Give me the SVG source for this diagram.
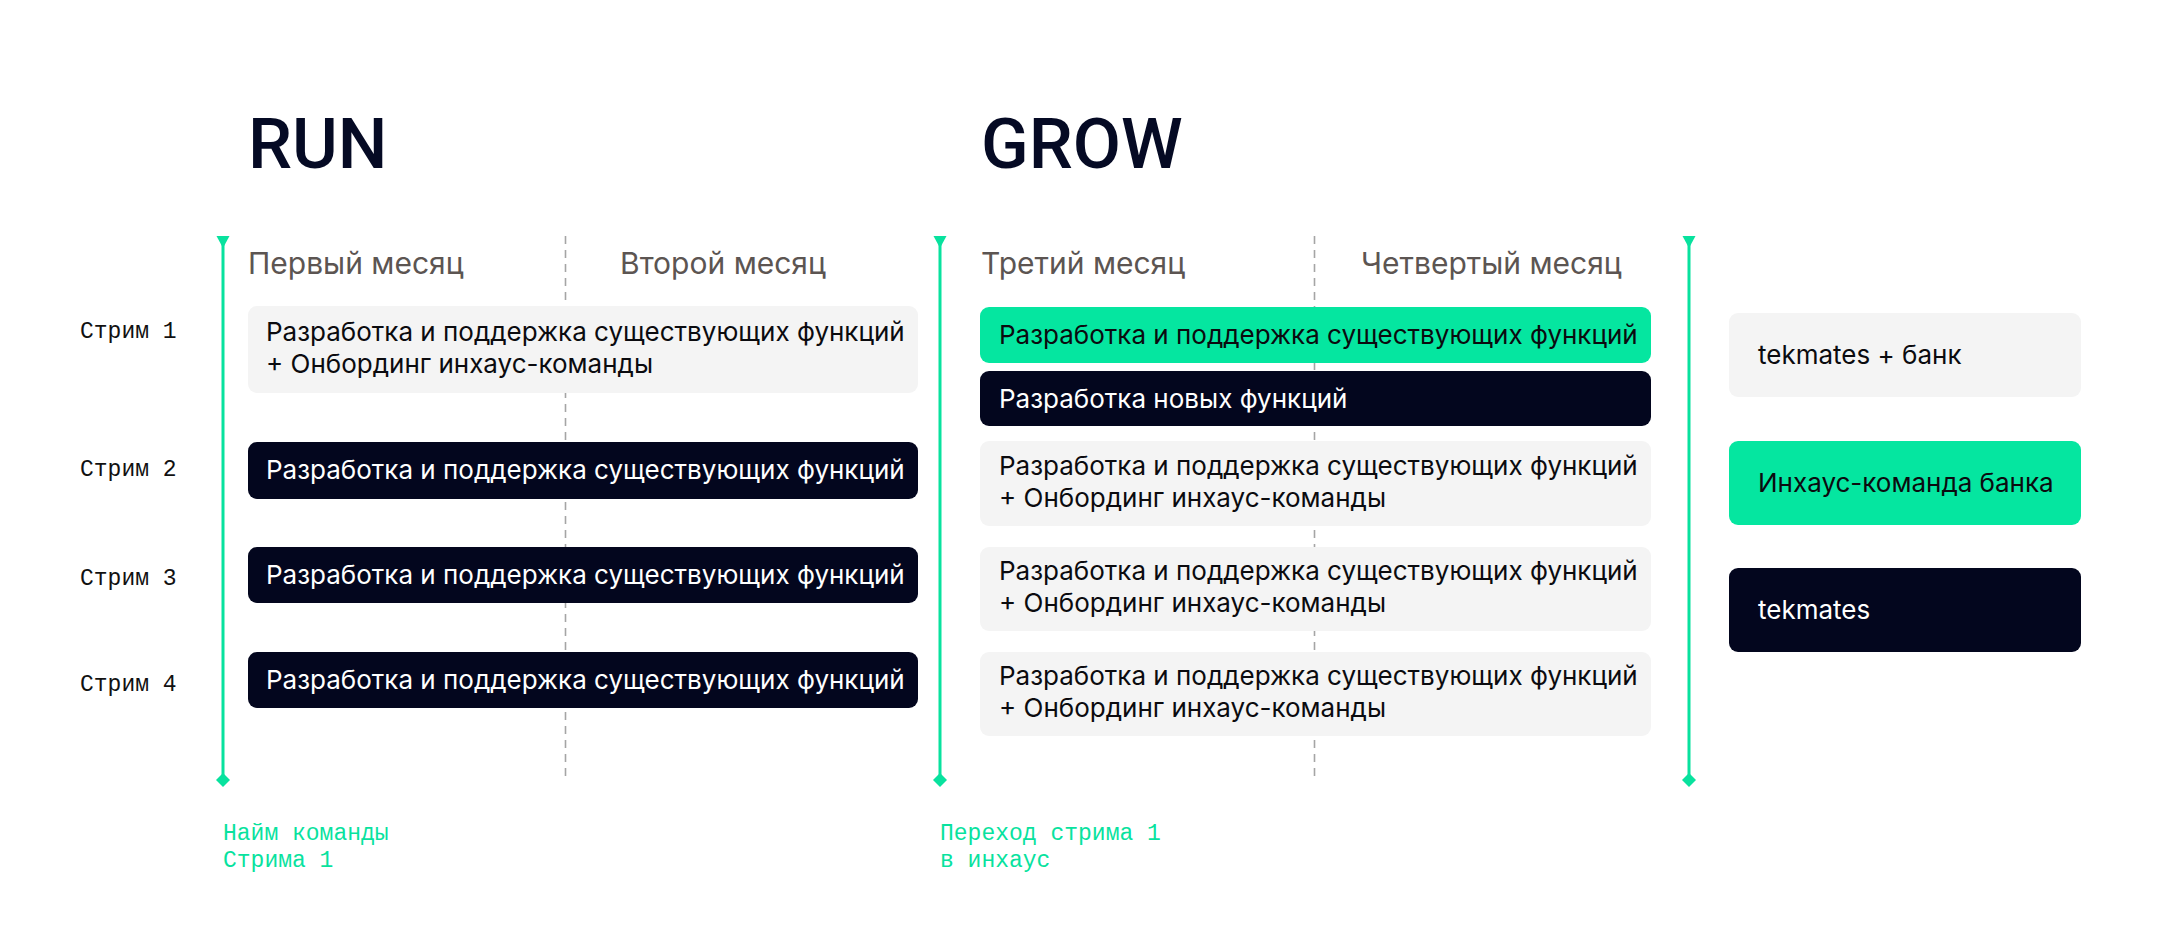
<svg xmlns="http://www.w3.org/2000/svg" width="2160" height="949" viewBox="0 0 2160 949">
<defs>
<style>
.title{font-family:Roboto,"Liberation Sans",sans-serif;font-weight:500;font-size:70px;fill:#050a24}
.month{font-family:Inter,Roboto,sans-serif;font-size:30px;fill:#5c5552}
.mono{font-family:"Liberation Mono","DejaVu Sans Mono",monospace;font-size:23px;fill:#111}
.gmono{font-family:"Liberation Mono","DejaVu Sans Mono",monospace;font-size:23px;fill:#08e29e}
.bt{font-family:Inter,Roboto,sans-serif;font-size:26px}
.light{fill:#f4f4f4}
.dark{fill:#03061e}
.green{fill:#05e6a0}
.tdark{fill:#0b0b0f}
.tlight{fill:#ffffff}
.tl{stroke:#08e29e;stroke-width:3;fill:none}
.dash{stroke:#a5a5a5;stroke-width:1.6;stroke-dasharray:8 6;fill:none}
</style>
</defs>
<rect width="2160" height="949" fill="#ffffff"/>

<g id="connectors">
  <line class="dash" x1="565.5" y1="236" x2="565.5" y2="782"/>
  <line class="dash" x1="1314.5" y1="236" x2="1314.5" y2="782"/>
  <g id="timeline-1">
    <line class="tl" x1="223" y1="238" x2="223" y2="780"/>
    <polygon points="216.5,236 229.5,236 223,248" fill="#08e29e"/>
    <polygon points="223,773 230,780 223,787 216,780" fill="#08e29e"/>
  </g>
  <g id="timeline-2">
    <line class="tl" x1="940" y1="238" x2="940" y2="780"/>
    <polygon points="933.5,236 946.5,236 940,248" fill="#08e29e"/>
    <polygon points="940,773 947,780 940,787 933,780" fill="#08e29e"/>
  </g>
  <g id="timeline-3">
    <line class="tl" x1="1689" y1="238" x2="1689" y2="780"/>
    <polygon points="1682.5,236 1695.5,236 1689,248" fill="#08e29e"/>
    <polygon points="1689,773 1696,780 1689,787 1682,780" fill="#08e29e"/>
  </g>
</g>

<g id="titles">
  <text class="title" x="248" y="168">RUN</text>
  <text class="title" x="981" y="168">GROW</text>
</g>

<g id="months">
  <text class="month" x="248" y="274">Первый месяц</text>
  <text class="month" x="620" y="274">Второй месяц</text>
  <text class="month" x="981" y="274">Третий месяц</text>
  <text class="month" x="1361" y="274">Четвертый месяц</text>
</g>

<g id="stream-labels">
  <text class="mono" x="80" y="338">Стрим 1</text>
  <text class="mono" x="80" y="476">Стрим 2</text>
  <text class="mono" x="80" y="585">Стрим 3</text>
  <text class="mono" x="80" y="691">Стрим 4</text>
</g>

<g id="run-s1">
  <rect class="light" x="248" y="306" width="670" height="87" rx="9"/>
  <text class="bt tdark" x="266" y="341">Разработка и поддержка существующих функций</text>
  <text class="bt tdark" x="266" y="373">+ Онбординг инхаус-команды</text>
</g>
<g id="run-s2">
  <rect class="dark" x="248" y="442" width="670" height="57" rx="9"/>
  <text class="bt tlight" x="266" y="479">Разработка и поддержка существующих функций</text>
</g>
<g id="run-s3">
  <rect class="dark" x="248" y="547" width="670" height="56" rx="9"/>
  <text class="bt tlight" x="266" y="584">Разработка и поддержка существующих функций</text>
</g>
<g id="run-s4">
  <rect class="dark" x="248" y="652" width="670" height="56" rx="9"/>
  <text class="bt tlight" x="266" y="689">Разработка и поддержка существующих функций</text>
</g>

<g id="grow-s1a">
  <rect class="green" x="980" y="307" width="671" height="56" rx="9"/>
  <text class="bt tdark" x="999" y="344">Разработка и поддержка существующих функций</text>
</g>
<g id="grow-s1b">
  <rect class="dark" x="980" y="371" width="671" height="55" rx="9"/>
  <text class="bt tlight" x="999" y="408">Разработка новых функций</text>
</g>
<g id="grow-s2">
  <rect class="light" x="980" y="441" width="671" height="85" rx="9"/>
  <text class="bt tdark" x="999" y="475">Разработка и поддержка существующих функций</text>
  <text class="bt tdark" x="999" y="507">+ Онбординг инхаус-команды</text>
</g>
<g id="grow-s3">
  <rect class="light" x="980" y="547" width="671" height="84" rx="9"/>
  <text class="bt tdark" x="999" y="580">Разработка и поддержка существующих функций</text>
  <text class="bt tdark" x="999" y="612">+ Онбординг инхаус-команды</text>
</g>
<g id="grow-s4">
  <rect class="light" x="980" y="652" width="671" height="84" rx="9"/>
  <text class="bt tdark" x="999" y="685">Разработка и поддержка существующих функций</text>
  <text class="bt tdark" x="999" y="717">+ Онбординг инхаус-команды</text>
</g>

<g id="legend-both">
  <rect class="light" x="1729" y="313" width="352" height="84" rx="9"/>
  <text class="bt tdark" x="1758" y="364">tekmates + банк</text>
</g>
<g id="legend-inhouse">
  <rect class="green" x="1729" y="441" width="352" height="84" rx="9"/>
  <text class="bt tdark" x="1758" y="492">Инхаус-команда банка</text>
</g>
<g id="legend-tekmates">
  <rect class="dark" x="1729" y="568" width="352" height="84" rx="9"/>
  <text class="bt tlight" x="1758" y="619">tekmates</text>
</g>

<g id="milestones">
  <text class="gmono" x="223" y="840">Найм команды</text>
  <text class="gmono" x="223" y="867">Стрима 1</text>
  <text class="gmono" x="940" y="840">Переход стрима 1</text>
  <text class="gmono" x="940" y="867">в инхаус</text>
</g>
</svg>
